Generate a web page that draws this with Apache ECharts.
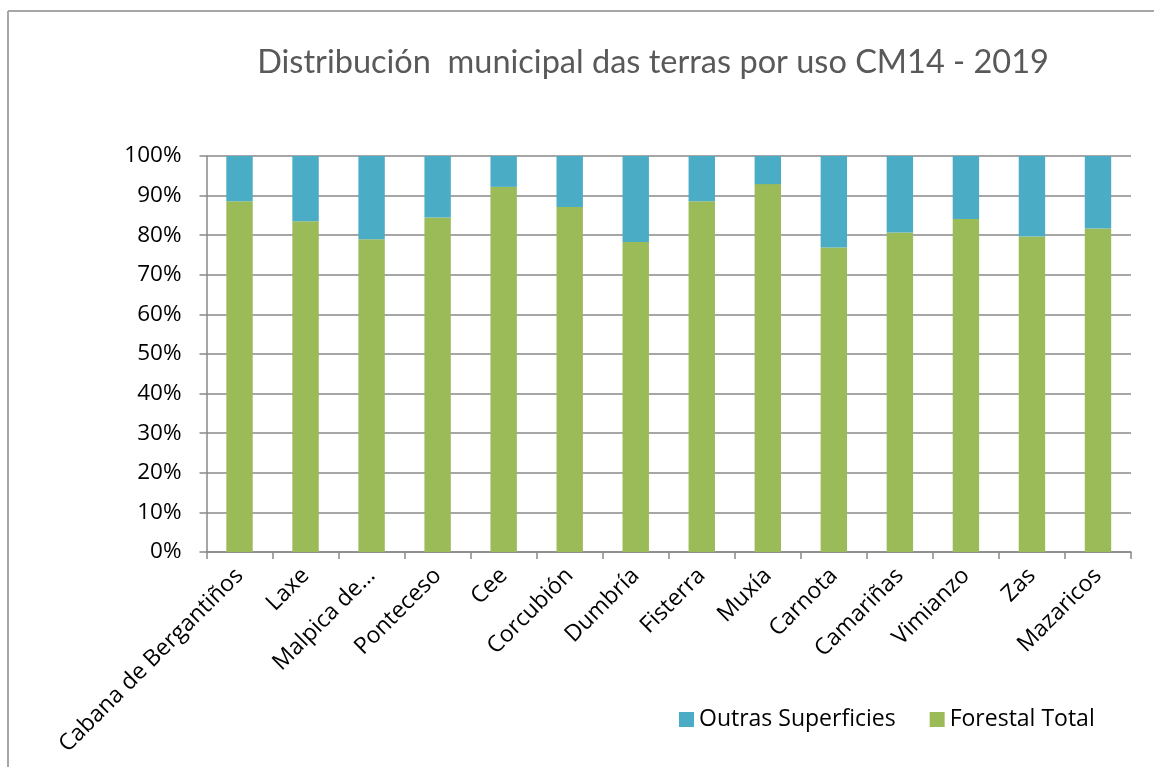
<!DOCTYPE html>
<html>
<head>
<meta charset="utf-8">
<script src="https://cdn.jsdelivr.net/npm/echarts@6/dist/echarts.min.js"></script>
<style>
  html, body { margin: 0; padding: 0; background: #fff; }
  #chart { width: 1154px; height: 767px; }
</style>
</head>
<body>
<div id="chart"></div>
<script>
const municipios = [
  "Cabana de Bergantiños", "Laxe", "Malpica de…", "Ponteceso", "Cee", "Corcubión", "Dumbría",
  "Fisterra", "Muxía", "Carnota", "Camariñas", "Vimianzo", "Zas", "Mazaricos"
];
const forestalTotal = [88.6, 83.5, 79.0, 84.5, 92.2, 87.1, 78.3, 88.6, 92.9, 76.9, 80.7, 84.1, 79.7, 81.7];
const outrasSuperficies = [11.4, 16.5, 21.0, 15.5, 7.8, 12.9, 21.7, 11.4, 7.1, 23.1, 19.3, 15.9, 20.3, 18.3];

const gray = "#898989";
const labelFont = "'Open Sans', 'Liberation Sans', sans-serif";

const chart = echarts.init(document.getElementById("chart"));

chart.setOption({
  animation: false,
  title: {
    text: "Distribución  municipal das terras por uso CM14 - 2019",
    left: 648,
    textAlign: "center",
    top: 41,
    textStyle: {
      fontFamily: "Lato, 'Noto Sans', sans-serif",
      fontSize: 32.5,
      fontWeight: "normal",
      color: "#595959"
    }
  },
  legend: {
    data: ["Outras Superficies", "Forestal Total"],
    left: 674,
    top: 703,
    itemWidth: 15,
    itemHeight: 15,
    itemGap: 34,
    icon: "rect",
    textStyle: { fontFamily: labelFont, fontSize: 23, color: "#000" }
  },
  grid: { left: 206.5, right: 23, top: 156, bottom: 215 },
  xAxis: {
    type: "category",
    data: municipios,
    axisLine: { lineStyle: { color: gray, width: 1.5 } },
    axisTick: { show: true, length: 7, alignWithLabel: false, lineStyle: { color: gray, width: 1.5 } },
    axisLabel: {
      interval: 0,
      rotate: 45,
      margin: 20,
      fontFamily: labelFont,
      fontSize: 23,
      color: "#000"
    }
  },
  yAxis: {
    type: "value",
    min: 0,
    max: 100,
    interval: 10,
    axisLine: { show: true, lineStyle: { color: gray, width: 1.5 } },
    axisTick: { show: true, length: 7, lineStyle: { color: gray, width: 1.5 } },
    splitLine: { lineStyle: { color: gray, width: 1.5 } },
    axisLabel: {
      margin: 25,
      fontFamily: labelFont,
      fontSize: 22.5,
      color: "#000",
      formatter: "{value}%"
    }
  },
  series: [
    {
      name: "Forestal Total",
      type: "bar",
      stack: "uso",
      barWidth: "40%",
      data: forestalTotal,
      itemStyle: { color: "#9BBB59" }
    },
    {
      name: "Outras Superficies",
      type: "bar",
      stack: "uso",
      barWidth: "40%",
      data: outrasSuperficies,
      itemStyle: { color: "#4BACC6" }
    }
  ],
  graphic: [
    { type: "line", shape: { x1: 8, y1: 11, x2: 1154, y2: 11 }, style: { stroke: "#a6a6a6", lineWidth: 2 } },
    { type: "line", shape: { x1: 8, y1: 11, x2: 8, y2: 767 }, style: { stroke: "#a6a6a6", lineWidth: 2 } }
  ]
});

window.addEventListener("resize", () => chart.resize());
</script>
</body>
</html>
